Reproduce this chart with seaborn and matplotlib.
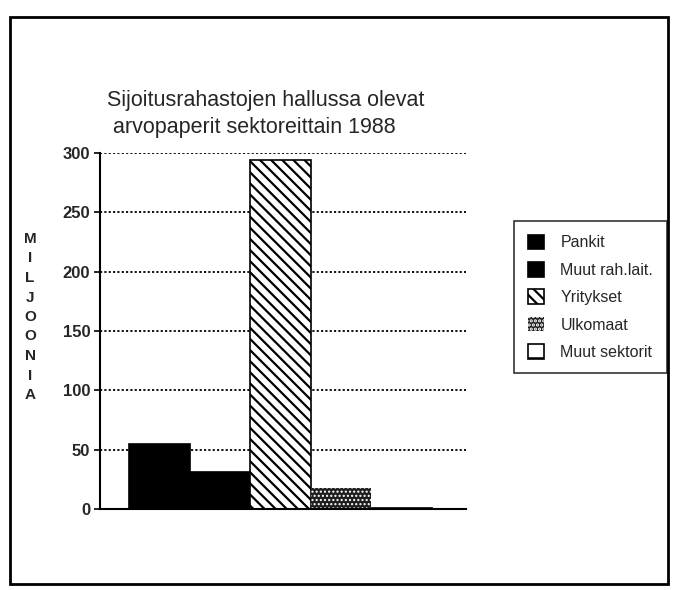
import matplotlib
matplotlib.use('Agg')
import matplotlib.pyplot as plt
import seaborn as sns
import pandas as pd
from matplotlib.patches import Patch, Rectangle

# data (millions)
sektorit = ['Pankit', 'Muut rah.lait.', 'Yritykset', 'Ulkomaat', 'Muut sektorit']
arvot = [55, 31, 294, 18, 1]
y_ticks = [0, 50, 100, 150, 200, 250, 300]

# look of each bar
varit = ['black', 'black', 'white', '#1e1e1e', 'white']
kuviot = ['', '', '\\\\\\', '....', '-']
reunat = ['black', 'black', 'black', 'white', 'black']

sns.set_theme(style='white')
plt.rcParams['font.family'] = ['Liberation Sans', 'DejaVu Sans']
plt.rcParams['hatch.linewidth'] = 1.6

df = pd.DataFrame({'sektori': sektorit, 'arvo': arvot})

fig = plt.figure(figsize=(6.82, 5.9), dpi=100)
ax = fig.add_axes([100/682, 1-509/590, 366/682, 356/590])

sns.barplot(data=df, x='sektori', y='arvo', hue='sektori', palette=dict(zip(sektorit, varit)),
            width=1.0, legend=False, ax=ax, saturation=1)
for p, k, r in zip(ax.patches, kuviot, reunat):
    p.set_hatch(k)
    p.set_edgecolor(r)
    p.set_linewidth(1.2 if r == 'black' else 0)
    if k == '....' and hasattr(p, 'set_hatch_linewidth'):
        p.set_hatch_linewidth(1.0)

ax.set_xlim(-0.98, 5.06)
ax.set_ylim(0, 300)
ax.set_yticks(y_ticks)
ax.set_yticklabels([str(t) for t in y_ticks], fontsize=12, fontweight='bold')
ax.set_xticks([])
ax.set_xlabel('')
ax.set_ylabel('')
ax.yaxis.grid(True, linestyle=(0, (1.2, 1.2)), color='black', linewidth=1.3)
ax.set_axisbelow(True)
ax.tick_params(axis='y', length=4, width=1.2, color='black', pad=3, left=True)
for s in ['top', 'right']:
    ax.spines[s].set_visible(False)
ax.spines['left'].set_linewidth(1.5)
ax.spines['left'].set_color('black')
ax.spines['bottom'].set_linewidth(1.5)
ax.spines['bottom'].set_color('black')

fig.text(107/682, 1-133/590, 'Sijoitusrahastojen hallussa olevat\n arvopaperit sektoreittain 1988',
         fontsize=15.5, ha='left', va='baseline', linespacing=1.4)

fig.text(30/682, 1-317/590, '\n'.join('MILJOONIA'), fontsize=11, fontweight='bold',
         ha='center', va='center', linespacing=1.5)

kahvat = []
for v, k, r in zip(varit, kuviot, reunat):
    h = Patch(facecolor=v, edgecolor=r, hatch=k, linewidth=1.2 if r == 'black' else 0)
    if k == '....' and hasattr(h, 'set_hatch_linewidth'):
        h.set_hatch_linewidth(1.0)
    kahvat.append(h)
leg = fig.legend(kahvat, sektorit, loc='upper left',
                 bbox_to_anchor=(514/682, 1-221/590, 153/682, 0.0), mode='expand',
                 frameon=True, fontsize=11.5, handlelength=1.05, handleheight=1.05,
                 handletextpad=1.0, labelspacing=0.72, borderpad=0.85, borderaxespad=0,
                 fancybox=False)
leg.get_frame().set_edgecolor('black')
leg.get_frame().set_linewidth(1.2)

fig.patches.append(Rectangle((10/682, 1-584/590), 658/682, 567/590, transform=fig.transFigure,
                             fill=False, edgecolor='black', linewidth=2))

fig.savefig('out.png', dpi=100)
